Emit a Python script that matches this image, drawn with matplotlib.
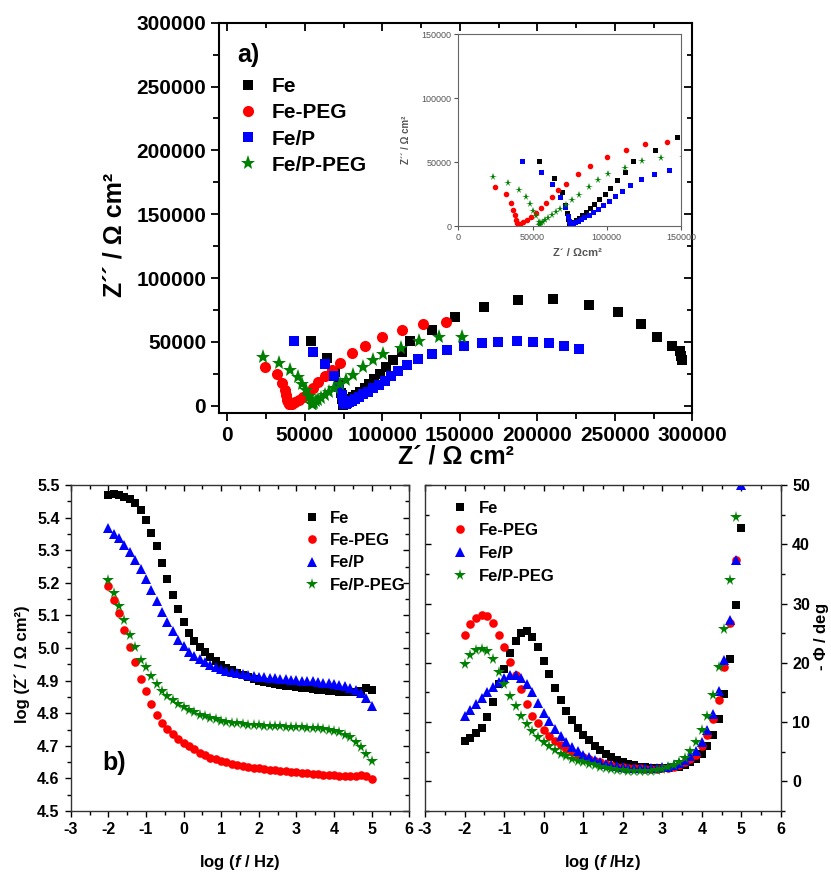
import numpy as np
import matplotlib
matplotlib.use("Agg")
import matplotlib.pyplot as plt
from matplotlib.ticker import MultipleLocator

plt.rcParams['font.family'] = ['Liberation Sans', 'DejaVu Sans']
plt.rcParams['font.weight'] = 'bold'
plt.rcParams['axes.unicode_minus'] = False
plt.rcParams['mathtext.fontset'] = 'custom'
plt.rcParams['mathtext.rm'] = 'Liberation Sans:bold'
plt.rcParams['mathtext.it'] = 'Liberation Sans:italic:bold'
plt.rcParams['mathtext.bf'] = 'Liberation Sans:bold'

labels = ['Fe', 'Fe-PEG', 'Fe/P', 'Fe/P-PEG']
colors = ['black', 'red', 'blue', 'green']

# ---- Nyquist data (Z' , Z'' in ohm cm2), low -> high frequency
fe_zre = [293200, 293000, 292100, 286700, 277000, 266700, 251900, 233400, 210300, 187300,
          165400, 147100, 132300, 118000, 112500, 107100, 102500, 98500, 94800, 91500,
          88500, 85800, 83300, 81100, 79200, 77600, 76400, 75500, 74900, 74600,
          74400, 74000, 73200, 71800, 69600, 64600, 54200]
fe_zim = [35800, 38900, 42800, 46800, 53500, 63700, 73100, 79100, 83600, 82800,
          77600, 69500, 59300, 50600, 42300, 35800, 30000, 25200, 21000, 17300,
          14000, 11100, 8700, 6600, 4900, 3500, 2400, 1600, 1100, 900,
          2500, 5500, 10000, 16500, 26500, 37500, 50500]

peg_zre = [140900, 126000, 112900, 100000, 88800, 80700, 72700, 67400, 63300, 58800,
           55400, 52000, 48800, 46000, 43600, 41800, 40600, 40000, 39400, 38700,
           37900, 37000, 35500, 32300, 24600]
peg_zim = [65800, 63700, 59300, 54000, 46800, 41000, 33200, 28100, 22900, 18200,
           13800, 10000, 6900, 4600, 2900, 1700, 1000, 1200, 2500, 4700,
           8400, 12500, 18000, 24700, 30400]

p_zre = [226900, 217400, 207800, 197400, 186700, 174900, 164500, 152900, 141600, 131900,
         123200, 115700, 110300, 105800, 101500, 97600, 94000, 90700, 87700, 85000,
         82600, 80500, 78700, 77300, 76300, 75700, 75400, 75200, 74800, 73800,
         71800, 68600, 63200, 55500, 42800]
p_zim = [44400, 47000, 48900, 49900, 50400, 50100, 48900, 47000, 43600, 40500,
         36600, 31900, 27200, 23200, 19600, 16400, 13500, 11000, 8800, 6900,
         5300, 4000, 2900, 2100, 1500, 1100, 1000, 2000, 4000, 8000,
         14500, 23000, 32500, 41800, 50700]

ppeg_zre = [151200, 136800, 123700, 112100, 100700, 94200, 87700, 81300, 76500, 72400,
            68800, 65600, 62800, 60400, 58500, 57000, 55900, 55200, 54800, 54600,
            54300, 52500, 50600, 48200, 45600, 40600, 33400, 23200]
ppeg_zim = [54100, 53500, 50700, 45000, 40500, 35800, 30600, 24000, 20100, 16700,
            13600, 10900, 8500, 6400, 4700, 3300, 2200, 1500, 1100, 1000,
            3500, 7500, 12000, 17000, 22300, 28000, 33800, 37900]

# ---- Bode data
log_f = [-2.0, -1.86, -1.71, -1.57, -1.43, -1.29, -1.14, -1.0, -0.86, -0.71,
         -0.57, -0.43, -0.29, -0.14, 0.0, 0.14, 0.29, 0.43, 0.57, 0.71,
         0.86, 1.0, 1.14, 1.29, 1.43, 1.57, 1.71, 1.86, 2.0, 2.14,
         2.29, 2.43, 2.57, 2.71, 2.86, 3.0, 3.14, 3.29, 3.43, 3.57,
         3.71, 3.86, 4.0, 4.14, 4.29, 4.43, 4.57, 4.71, 4.86, 5.0]

logz_fe = [5.469, 5.471, 5.469, 5.464, 5.456, 5.444, 5.423, 5.392, 5.354, 5.312,
           5.262, 5.213, 5.162, 5.121, 5.080, 5.047, 5.021, 5.003, 4.987, 4.972,
           4.959, 4.948, 4.938, 4.931, 4.924, 4.916, 4.910, 4.905, 4.900, 4.897,
           4.893, 4.890, 4.887, 4.884, 4.882, 4.880, 4.878, 4.876, 4.874, 4.872,
           4.870, 4.868, 4.867, 4.866, 4.865, 4.865, 4.865, 4.867, 4.877, 4.871]
logz_peg = [5.189, 5.148, 5.107, 5.056, 5.003, 4.956, 4.905, 4.867, 4.828, 4.794,
            4.770, 4.753, 4.736, 4.722, 4.710, 4.699, 4.689, 4.679, 4.671, 4.664,
            4.658, 4.653, 4.649, 4.645, 4.642, 4.638, 4.635, 4.633, 4.631, 4.629,
            4.627, 4.625, 4.623, 4.622, 4.620, 4.619, 4.617, 4.616, 4.614, 4.613,
            4.611, 4.610, 4.609, 4.608, 4.607, 4.607, 4.608, 4.610, 4.608, 4.597]
logz_p = [5.367, 5.351, 5.336, 5.315, 5.295, 5.269, 5.242, 5.213, 5.179, 5.144,
          5.110, 5.080, 5.051, 5.026, 5.006, 4.989, 4.976, 4.965, 4.956, 4.948,
          4.941, 4.935, 4.930, 4.926, 4.923, 4.920, 4.916, 4.914, 4.912, 4.910,
          4.909, 4.907, 4.906, 4.904, 4.903, 4.902, 4.900, 4.899, 4.898, 4.896,
          4.894, 4.892, 4.890, 4.887, 4.883, 4.878, 4.871, 4.862, 4.846, 4.823]
logz_ppeg = [5.208, 5.169, 5.128, 5.085, 5.041, 5.003, 4.964, 4.941, 4.915, 4.890,
             4.869, 4.854, 4.841, 4.828, 4.820, 4.811, 4.803, 4.796, 4.790, 4.785,
             4.781, 4.777, 4.774, 4.771, 4.769, 4.767, 4.765, 4.764, 4.763, 4.762,
             4.761, 4.760, 4.760, 4.758, 4.758, 4.757, 4.757, 4.756, 4.755, 4.754,
             4.752, 4.749, 4.746, 4.741, 4.734, 4.726, 4.713, 4.697, 4.676, 4.654]

phase_fe = [6.8, 7.3, 8.1, 9.0, 10.8, 13.4, 16.4, 18.9, 21.6, 23.7,
            25.0, 25.3, 24.4, 22.7, 20.3, 18.1, 15.7, 13.7, 11.9, 10.4,
            9.0, 7.9, 6.9, 6.0, 5.3, 4.6, 4.1, 3.6, 3.3, 2.9,
            2.7, 2.5, 2.4, 2.3, 2.3, 2.3, 2.3, 2.4, 2.5, 2.8,
            3.3, 3.8, 4.6, 6.0, 7.9, 10.6, 14.8, 20.7, 29.8, 42.8]
phase_peg = [24.7, 26.6, 27.5, 28.1, 27.9, 26.7, 24.7, 22.6, 20.1, 18.0,
             15.5, 13.0, 11.0, 9.8, 8.6, 7.6, 6.8, 6.1, 5.5, 5.0,
             4.5, 4.1, 3.7, 3.4, 3.2, 2.9, 2.7, 2.5, 2.4, 2.3,
             2.3, 2.2, 2.1, 2.1, 2.1, 2.2, 2.3, 2.5, 2.8, 3.2,
             3.7, 4.5, 5.9, 7.9, 10.6, 13.8, 19.3, 26.8, 37.4]
phase_p = [11.1, 12.0, 13.0, 14.0, 15.0, 15.9, 16.8, 17.5, 18.0, 18.0,
           17.4, 16.4, 15.0, 13.3, 11.6, 10.1, 8.8, 7.6, 6.7, 5.8,
           5.1, 4.5, 4.1, 3.6, 3.3, 3.0, 2.8, 2.6, 2.4, 2.3,
           2.3, 2.2, 2.2, 2.2, 2.3, 2.4, 2.5, 2.8, 3.1, 3.6,
           4.2, 5.2, 6.7, 8.6, 11.4, 15.3, 20.5, 27.2, 37.3, 50.0]
phase_ppeg = [19.8, 21.3, 22.2, 22.4, 22.0, 20.6, 18.4, 16.4, 14.4, 12.7,
              11.1, 9.6, 8.5, 7.5, 6.7, 5.9, 5.3, 4.7, 4.2, 3.8,
              3.5, 3.2, 2.9, 2.7, 2.4, 2.3, 2.1, 2.0, 1.9, 1.8,
              1.8, 1.8, 1.8, 1.8, 1.9, 2.1, 2.4, 2.8, 3.3, 4.0,
              5.1, 6.6, 8.6, 11.0, 14.6, 19.3, 25.7, 33.9, 44.6]

W, H = 831, 874


def rect(l, t, r, b):
    return [l / W, 1 - b / H, (r - l) / W, (b - t) / H]


def inner_ticks(ax, side, major, minor, length, width):
    if side in ('top', 'bottom'):
        sec = ax.secondary_xaxis(side)
        axis = sec.xaxis
    else:
        sec = ax.secondary_yaxis(side)
        axis = sec.yaxis
    axis.set_major_locator(MultipleLocator(major))
    axis.set_minor_locator(MultipleLocator(minor))
    sec.tick_params(which='both', direction='in', width=width,
                    labelbottom=False, labeltop=False, labelleft=False, labelright=False)
    sec.tick_params(which='major', length=length)
    sec.tick_params(which='minor', length=length * 0.6)
    for sp in sec.spines.values():
        sp.set_visible(False)


def legend_at(ax, handles, mx, y0, step, text_x, fs, hl=1.0):
    fpx = fs * 100 / 72
    rowh = fpx * 0.93
    ax.legend(handles=handles, labels=labels, loc='upper left', frameon=False,
              bbox_to_anchor=((mx - hl * fpx / 2) / W, 1 - (y0 - rowh / 2) / H),
              bbox_transform=fig.transFigure, borderpad=0, borderaxespad=0,
              handlelength=hl, handletextpad=(text_x - mx - hl * fpx / 2) / fpx,
              labelspacing=(step - rowh) / fpx, numpoints=1,
              prop={'weight': 'bold', 'size': fs})


fig = plt.figure(figsize=(8.31, 8.74), dpi=100)

# ---------------- a) Nyquist
ax = fig.add_axes(rect(219.3, 22.7, 692.3, 412.7))
nyq = [(fe_zre, fe_zim, 's', 7.2), (peg_zre, peg_zim, 'o', 8.0),
       (p_zre, p_zim, 's', 7.2), (ppeg_zre, ppeg_zim, '*', 11)]
handles = []
for (zr, zi, m, ms), c in zip(nyq, colors):
    h, = ax.plot(zr, zi, m, color=c, ms=ms, mew=0, ls='none')
    handles.append(h)
ax.set_xlim(-5200, 300000)
ax.set_ylim(-5500, 300000)
ax.xaxis.set_major_locator(MultipleLocator(50000))
ax.xaxis.set_minor_locator(MultipleLocator(25000))
ax.yaxis.set_major_locator(MultipleLocator(50000))
ax.yaxis.set_minor_locator(MultipleLocator(25000))
ax.ticklabel_format(style='plain', useOffset=False)
ax.tick_params(which='both', direction='out', width=1.3, labelsize=15)
ax.tick_params(which='major', length=6)
ax.tick_params(which='minor', length=4)
for sp in ax.spines.values():
    sp.set_linewidth(1.5)
inner_ticks(ax, 'top', 50000, 25000, 6, 1.3)
inner_ticks(ax, 'right', 50000, 25000, 6, 1.3)
legend_at(ax, handles, 247.7, 87, 26.5, 272, 15)
fig.text(248 / W, 1 - 55 / H, 'a)', fontsize=18, fontweight='bold', ha='center', va='center')
fig.text(456 / W, 1 - 456 / H, 'Z´ / Ω cm²', fontsize=18, fontweight='bold', ha='center', va='center')
fig.text(115 / W, 1 - 235 / H, 'Z´´ / Ω cm²', fontsize=18, fontweight='bold', ha='center',
         va='center', rotation=90)

# inset
axi = fig.add_axes(rect(458.3, 34, 681, 226))
for (zr, zi, m, ms), c in zip(nyq, colors):
    axi.plot(zr, zi, m, color=c, ms=ms * 0.5, mew=0, ls='none')
axi.set_xlim(0, 150000)
axi.set_ylim(0, 150000)
axi.xaxis.set_major_locator(MultipleLocator(50000))
axi.yaxis.set_major_locator(MultipleLocator(50000))
axi.ticklabel_format(style='plain', useOffset=False)
axi.tick_params(direction='out', length=3, width=0.8, labelsize=6.5, labelcolor='#555555',
                color='#555555', pad=2)
for t in axi.get_xticklabels() + axi.get_yticklabels():
    t.set_fontweight('normal')
for sp in axi.spines.values():
    sp.set_color('#666666')
    sp.set_linewidth(0.8)
fig.text(577.5 / W, 1 - 252.5 / H, 'Z´ / Ωcm²', fontsize=8, fontweight='bold', color='#555555',
         ha='center', va='center')
fig.text(406 / W, 1 - 140 / H, 'Z´´ / Ω cm²', fontsize=7, fontweight='bold', color='#555555',
         ha='center', va='center', rotation=90)

# ---------------- b) log Z' vs frequency
axb = fig.add_axes(rect(70.7, 485, 409.3, 811))
bode_m = [('s', 5.8), ('o', 6.2), ('^', 6.8), ('*', 8.5)]
zsets = [logz_fe, logz_peg, logz_p, logz_ppeg]
handles = []
for (m, ms), c, z in zip(bode_m, colors, zsets):
    h, = axb.plot(log_f[:len(z)], z, m, color=c, ms=ms, mew=0, ls='none')
    handles.append(h)
axb.set_xlim(-3, 6)
axb.set_ylim(4.5, 5.5)
axb.xaxis.set_major_locator(MultipleLocator(1))
axb.xaxis.set_minor_locator(MultipleLocator(0.5))
axb.yaxis.set_major_locator(MultipleLocator(0.1))
axb.yaxis.set_minor_locator(MultipleLocator(0.05))
axb.yaxis.set_major_formatter(matplotlib.ticker.FormatStrFormatter('%.1f'))
axb.tick_params(which='both', direction='out', width=1.0, labelsize=11.5)
axb.tick_params(which='major', length=4.5)
axb.tick_params(which='minor', length=3)
for sp in axb.spines.values():
    sp.set_linewidth(1.0)
    sp.set_color('#333333')
inner_ticks(axb, 'top', 1, 0.5, 4.5, 1.0)
inner_ticks(axb, 'right', 0.1, 0.05, 4.5, 1.0)
legend_at(axb, handles, 311.7, 518.3, 22.9, 330, 12)
fig.text(114 / W, 1 - 763 / H, 'b)', fontsize=18, fontweight='bold', ha='center', va='center')
fig.text(240 / W, 1 - 862 / H, r'log ($\mathit{f}$ / Hz)', fontsize=12, fontweight='bold',
         ha='center', va='center')
fig.text(22 / W, 1 - 664 / H, 'log (Z´ / Ω cm²)', fontsize=12, fontweight='bold',
         ha='center', va='center', rotation=90)

# ---------------- phase angle vs frequency
axc = fig.add_axes(rect(425, 485, 781, 811))
psets = [phase_fe, phase_peg, phase_p, phase_ppeg]
handles = []
for (m, ms), c, p in zip(bode_m, colors, psets):
    h, = axc.plot(log_f[:len(p)], p, m, color=c, ms=ms, mew=0, ls='none')
    handles.append(h)
axc.set_xlim(-3, 6)
axc.set_ylim(-5, 50)
axc.xaxis.set_major_locator(MultipleLocator(1))
axc.xaxis.set_minor_locator(MultipleLocator(0.5))
axc.yaxis.set_major_locator(MultipleLocator(10))
axc.yaxis.set_minor_locator(MultipleLocator(5))
axc.yaxis.tick_right()
axc.tick_params(which='both', direction='out', width=1.0, labelsize=11.5)
axc.tick_params(which='major', length=4.5)
axc.tick_params(which='minor', length=3)
for sp in axc.spines.values():
    sp.set_linewidth(1.0)
    sp.set_color('#333333')
inner_ticks(axc, 'top', 1, 0.5, 4.5, 1.0)
inner_ticks(axc, 'left', 10, 5, 4.5, 1.0)
legend_at(axc, handles, 460, 508.3, 23.2, 479, 12)
fig.text(602.5 / W, 1 - 862 / H, r'log ($\mathit{f}$ /Hz)', fontsize=12, fontweight='bold',
         ha='center', va='center')
fig.text(821.7 / W, 1 - 637 / H, r'- $\mathit{Φ}$ / deg', fontsize=12, fontweight='bold',
         ha='center', va='center', rotation=90)

fig.savefig('out.png', dpi=100)
